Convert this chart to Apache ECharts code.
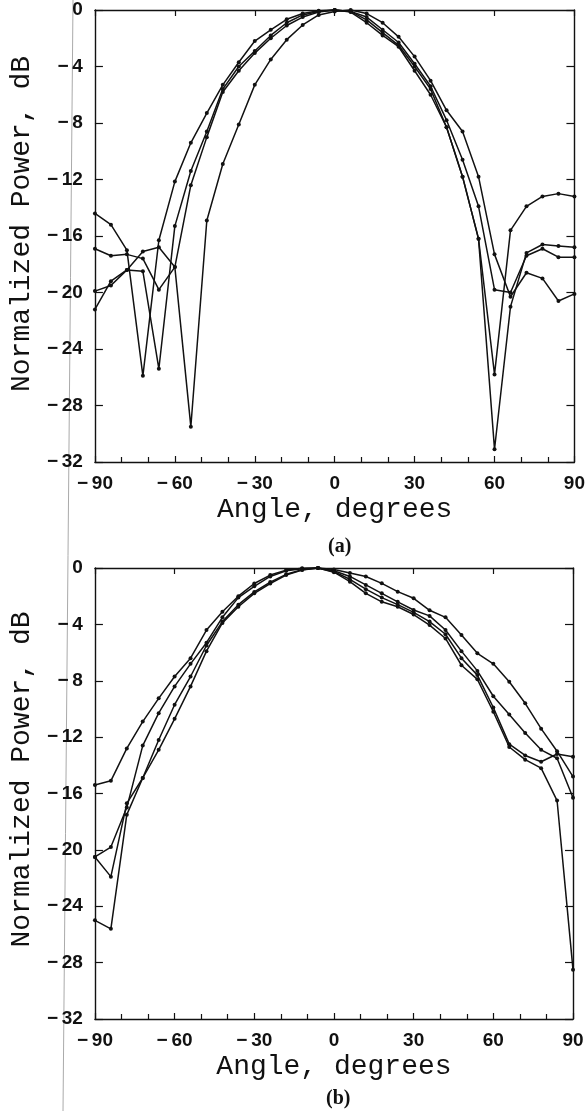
<!DOCTYPE html>
<html>
<head>
<meta charset="utf-8">
<script src="https://cdn.jsdelivr.net/npm/echarts@6/dist/echarts.min.js"></script>
<style>
  html, body { margin: 0; padding: 0; background: #fff; }
  #chart { width: 588px; height: 1111px; }
</style>
</head>
<body>
<div id="chart"></div>
<script>
// angle grid shared by every curve, degrees
const angles = [-90, -84, -78, -72, -66, -60, -54, -48, -42, -36, -30, -24, -18, -12, -6, 0,
  6, 12, 18, 24, 30, 36, 42, 48, 54, 60, 66, 72, 78, 84, 90];

// panel (a), normalized power in dB
const a1 = [-14.4, -15.2, -17.0, -25.9, -16.3, -12.15, -9.4, -7.3, -5.3, -3.7, -2.2, -1.4, -0.66, -0.25, -0.05, 0,
  -0.15, -0.9, -1.8, -2.6, -4.3, -6.0, -8.3, -11.8, -16.2, -25.8, -15.6, -13.9, -13.2, -13.0, -13.2];
const a2 = [-16.9, -17.4, -17.3, -17.6, -19.8, -18.2, -12.4, -9.0, -5.8, -4.3, -3.05, -2.0, -1.1, -0.5, -0.15, 0,
  -0.1, -0.5, -1.4, -2.3, -3.8, -5.4, -7.8, -10.6, -13.9, -19.8, -20.0, -17.4, -16.9, -17.5, -17.5];
const a3 = [-19.9, -19.5, -18.4, -18.5, -25.4, -15.3, -11.4, -8.6, -5.6, -4.0, -2.9, -1.8, -0.9, -0.35, -0.1, 0,
  -0.1, -0.7, -1.6, -2.5, -4.0, -5.6, -8.3, -11.8, -16.2, -31.1, -21.0, -17.2, -16.6, -16.7, -16.8];
const a4 = [-21.2, -19.2, -18.4, -17.1, -16.8, -18.2, -29.5, -14.9, -10.9, -8.1, -5.3, -3.5, -2.1, -1.06, -0.35, -0.1,
  0, -0.25, -0.9, -1.9, -3.3, -5.0, -7.1, -8.6, -11.8, -17.3, -20.3, -18.6, -19.0, -20.6, -20.1];

// panel (b)
const b1 = [-15.4, -15.1, -12.8, -10.9, -9.25, -7.7, -6.4, -4.4, -3.1, -2.0, -1.1, -0.5, -0.15, -0.02, 0, -0.1,
  -0.35, -0.6, -1.09, -1.68, -2.15, -3.0, -3.5, -4.75, -6.05, -6.8, -8.07, -9.6, -11.4, -13.0, -14.8];
const b2 = [-20.5, -19.8, -17.0, -12.6, -10.3, -8.4, -6.8, -5.3, -3.5, -2.1, -1.3, -0.6, -0.2, -0.05, 0, -0.2,
  -0.6, -1.2, -1.8, -2.4, -2.98, -3.4, -4.4, -5.9, -7.3, -9.1, -10.4, -11.7, -12.9, -13.5, -16.3];
const b3 = [-20.5, -21.9, -16.7, -14.9, -12.2, -9.7, -7.7, -5.5, -3.8, -2.6, -1.7, -1.0, -0.45, -0.12, 0, -0.26,
  -0.8, -1.5, -2.1, -2.6, -3.15, -3.8, -4.7, -6.4, -7.6, -9.9, -12.5, -13.3, -13.75, -13.2, -13.4];
const b4 = [-25.0, -25.6, -17.5, -14.9, -12.9, -10.7, -8.4, -5.9, -3.9, -2.75, -1.8, -1.1, -0.5, -0.15, 0, -0.3,
  -0.97, -1.8, -2.4, -2.75, -3.3, -4.05, -5.0, -6.9, -7.9, -10.2, -12.7, -13.6, -14.2, -16.5, -28.5];

const chart = echarts.init(document.getElementById("chart"));

const ink = "#111";
// minus sign set a little apart from the digits, as in the print
const minus = (v) => (v < 0 ? "\u2212\u2009" + Math.abs(v) : String(v));
const line = { onZero: false, lineStyle: { color: ink, width: 1.4 } };
const labelStyle = { color: ink, fontSize: 19, fontFamily: "Liberation Sans", fontWeight: "bold" };
const titleStyle = { color: ink, fontSize: 28, fontFamily: "Liberation Mono" };

function xAxes(g) {
  return [
    {
      gridIndex: g, type: "value", min: -90, max: 90, interval: 30, position: "bottom",
      axisLine: line, splitLine: { show: false },
      axisTick: { inside: true, length: 6, lineStyle: { color: ink, width: 1.2 } },
      minorTick: { show: true, splitNumber: 3, length: 5, lineStyle: { color: ink, width: 1.2 } },
      axisLabel: { ...labelStyle, margin: 12, formatter: minus },
      name: "Angle, degrees", nameLocation: "middle", nameGap: 34, nameTextStyle: titleStyle,
    },
    {
      gridIndex: g, type: "value", min: -90, max: 90, interval: 30, position: "top",
      axisLine: line, splitLine: { show: false },
      axisTick: { inside: true, length: 6, lineStyle: { color: ink, width: 1.2 } },
      axisLabel: { show: false },
    },
  ];
}

function yAxes(g, lift) {
  return [
    {
      gridIndex: g, type: "value", min: -32, max: 0, interval: 4, position: "left",
      axisLine: line, splitLine: { show: false },
      axisTick: { inside: true, length: 8, lineStyle: { color: ink, width: 1.2 } },
      axisLabel: { ...labelStyle, margin: 12, formatter: minus },
      name: "Normalized Power, dB", nameLocation: "middle", nameGap: 56,
      nameTextStyle: { ...titleStyle, padding: [0, 0, 0, lift] },
    },
    {
      gridIndex: g, type: "value", min: -32, max: 0, interval: 4, position: "right",
      axisLine: line, splitLine: { show: false },
      axisTick: { inside: true, length: 8, lineStyle: { color: ink, width: 1.2 } },
      axisLabel: { show: false },
    },
  ];
}

function curve(vals, panel) {
  return {
    type: "line",
    xAxisIndex: panel * 2,
    yAxisIndex: panel * 2,
    data: angles.map((x, i) => [x, vals[i]]),
    symbol: "circle",
    symbolSize: 4,
    lineStyle: { color: ink, width: 1.5 },
    itemStyle: { color: ink },
    clip: false,
  };
}

const option = {
  animation: false,
  backgroundColor: "#fff",
  grid: [
    { left: 94, right: 12, top: 10, height: 452 },
    { left: 90, right: 15, top: 568, height: 451 },
  ],
  xAxis: [...xAxes(0), ...xAxes(1)],
  yAxis: [...yAxes(0, 24), ...yAxes(1, 28)],
  series: [
    curve(a1, 0), curve(a2, 0), curve(a3, 0), curve(a4, 0),
    curve(b1, 1), curve(b2, 1), curve(b3, 1), curve(b4, 1),
  ],
  graphic: [
    // faint scanner streak down the left margin
    { type: "line", shape: { x1: 73, y1: 0, x2: 63, y2: 1111 }, style: { stroke: "#aaa", lineWidth: 1 }, z: -1 },
    {
      type: "text", left: 328, top: 537,
      style: { text: "(a)", fill: ink, font: "bold 20px 'Liberation Serif'" },
    },
    {
      type: "text", left: 326, top: 1089,
      style: { text: "(b)", fill: ink, font: "bold 20px 'Liberation Serif'" },
    },
  ],
};

chart.setOption(option);
</script>
</body>
</html>
